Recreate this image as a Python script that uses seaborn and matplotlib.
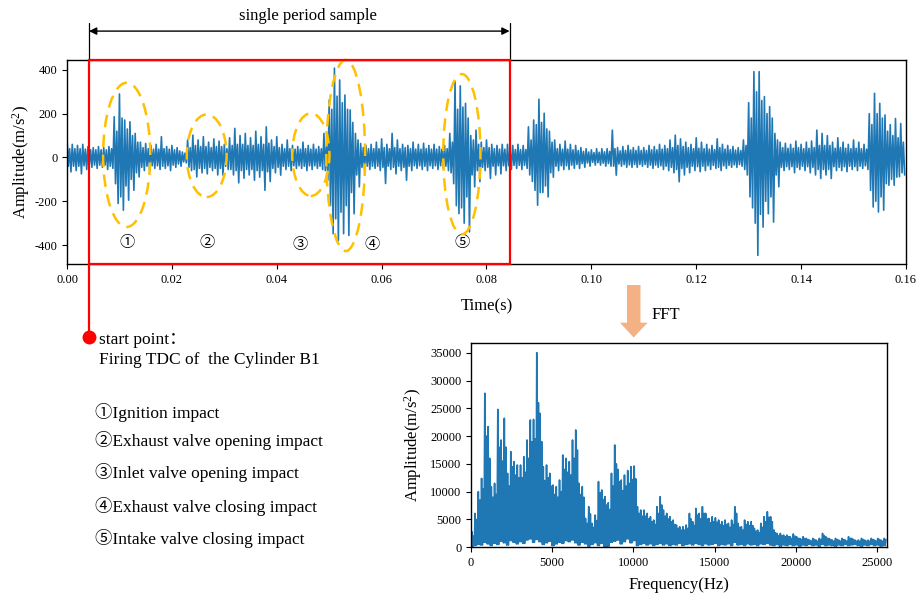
import numpy as np
import matplotlib
matplotlib.use("Agg")
import matplotlib.pyplot as plt
import seaborn as sns
from matplotlib.patches import Ellipse, Rectangle, Polygon

# ---------------- data ----------------
# vibration signal, per-1 ms bin (0 .. 0.16 s): upper / lower extremes and
# half-width of the dense noise core (m/s^2)
sig_up = [90, 60, 55, 60, 50, 45, 50, 45, 50, 186,
          290, 171, 163, 110, 70, 64, 55, 60, 95, 50,
          55, 45, 25, 80, 102, 80, 95, 70, 85, 75,
          60, 90, 133, 100, 110, 90, 120, 95, 140, 80,
          95, 60, 80, 55, 50, 70, 55, 60, 50, 110,
          262, 408, 354, 285, 217, 110, 64, 55, 60, 70,
          85, 60, 110, 80, 60, 55, 70, 60, 65, 55,
          60, 50, 55, 110, 346, 327, 247, 100, 125, 70,
          80, 60, 55, 60, 60, 55, 60, 55, 140, 171,
          266, 202, 120, 80, 60, 75, 60, 55, 45, 40,
          35, 40, 40, 40, 125, 45, 50, 55, 45, 50,
          45, 55, 50, 60, 55, 80, 102, 85, 70, 60,
          90, 70, 60, 55, 85, 60, 55, 50, 45, 80,
          250, 392, 392, 278, 232, 110, 70, 65, 60, 75,
          60, 70, 75, 125, 110, 100, 70, 90, 70, 60,
          80, 70, 60, 200, 293, 247, 194, 150, 178, 155]
sig_lo = [-66, -60, -75, -55, -45, -50, -45, -55, -50, -210,
          -241, -195, -150, -89, -60, -58, -50, -55, -50, -60,
          -45, -40, -25, -60, -89, -70, -75, -60, -80, -81,
          -55, -80, -116, -95, -80, -104, -90, -150, -110, -70,
          -81, -55, -60, -50, -50, -60, -55, -50, -55, -104,
          -348, -379, -348, -356, -257, -134, -58, -55, -50, -60,
          -119, -55, -75, -60, -104, -60, -50, -55, -60, -50,
          -55, -50, -60, -120, -256, -300, -340, -134, -110, -60,
          -96, -80, -75, -60, -55, -50, -55, -50, -110, -218,
          -160, -180, -90, -60, -55, -55, -50, -50, -45, -40,
          -35, -35, -40, -40, -81, -40, -45, -45, -45, -40,
          -45, -50, -45, -55, -60, -70, -111, -80, -70, -60,
          -65, -60, -55, -50, -60, -50, -45, -45, -40, -80,
          -230, -447, -318, -257, -295, -134, -60, -55, -70, -55,
          -60, -70, -80, -96, -80, -96, -60, -60, -65, -55,
          -60, -50, -55, -226, -249, -241, -127, -127, -88, -80]
sig_core = [40, 40, 40, 38, 35, 35, 35, 35, 40, 120,
            180, 130, 100, 70, 45, 40, 38, 38, 40, 38,
            35, 30, 20, 45, 55, 50, 50, 45, 50, 50,
            40, 55, 60, 60, 55, 55, 60, 60, 65, 50,
            45, 40, 40, 38, 38, 40, 38, 38, 40, 60,
            220, 280, 250, 220, 160, 80, 45, 40, 40, 40,
            45, 40, 45, 40, 45, 40, 38, 38, 40, 38,
            38, 38, 40, 70, 220, 230, 180, 80, 60, 45,
            45, 40, 38, 38, 38, 36, 36, 36, 80, 150,
            160, 130, 70, 40, 38, 38, 35, 32, 28, 25,
            22, 24, 26, 28, 40, 30, 32, 34, 32, 32,
            32, 35, 35, 38, 40, 45, 55, 50, 45, 40,
            42, 40, 38, 36, 45, 38, 36, 34, 32, 55,
            180, 300, 260, 200, 180, 80, 45, 42, 42, 45,
            40, 42, 45, 55, 55, 55, 42, 45, 42, 40,
            42, 40, 38, 150, 200, 180, 120, 100, 90, 70]

# spectrum, per-200 Hz bin (0 .. 25600 Hz): peak, floor and dense-fill level
fft_up = [2800, 6100, 10000, 12400, 27700, 21700, 10900, 11500, 24800, 19300,
          23200, 13300, 17200, 15400, 14800, 14800, 16300, 19300, 22900, 23000,
          35000, 24100, 14500, 14800, 13300, 11200, 10900, 12100, 16600, 16000,
          15400, 19300, 21100, 11500, 10900, 5200, 7300, 4300, 5800, 11800,
          10300, 9100, 8000, 13300, 18400, 14000, 12100, 13000, 13800, 14500,
          14600, 7300, 6700, 6700, 6100, 5500, 4900, 7300, 9100, 6700,
          6100, 5500, 4900, 4000, 3700, 3700, 4000, 6100, 4600, 7000,
          6100, 7300, 6100, 5200, 5500, 5300, 4900, 4600, 4900, 4300,
          4900, 7300, 4300, 3700, 4900, 4600, 4600, 3400, 3100, 4300,
          5500, 6400, 5500, 3100, 2500, 2500, 2200, 2200, 1900, 2400,
          1900, 1600, 1900, 1600, 1300, 1600, 1300, 1600, 2500, 1900,
          1600, 1300, 1600, 1300, 1600, 1300, 1900, 1600, 1300, 1300,
          1600, 1300, 1300, 1600, 1300, 1600, 1300, 1600]
fft_lo = [100, 300, 500, 400, 900, 600, 300, 700, 500, 1100,
          800, 400, 1200, 900, 600, 1000, 700, 1300, 1500, 900,
          1400, 1000, 500, 800, 1100, 300, 600, 900, 700, 1200,
          1000, 1300, 800, 400, 900, 600, 200, 500, 800, 300,
          700, 100, 200, 900, 1100, 1300, 600, 1000, 1500, 800,
          1200, 300, 500, 700, 400, 600, 300, 500, 700, 400,
          600, 300, 500, 400, 700, 300, 500, 600, 400, 700,
          500, 300, 600, 400, 500, 700, 300, 500, 400, 600,
          300, 900, 400, 500, 300, 600, 400, 500, 300, 600,
          500, 700, 400, 300, 500, 200, 400, 300, 500, 300,
          400, 200, 400, 300, 500, 300, 400, 200, 500, 300,
          400, 300, 200, 400, 300, 500, 300, 400, 500, 300,
          200, 400, 300, 500, 300, 400, 200, 300]
fft_core = [2000, 5000, 8500, 10500, 20000, 16000, 9000, 9500, 18000, 15500,
            18000, 11000, 14500, 13000, 12500, 12500, 13500, 16000, 19000, 19500,
            26000, 19000, 12000, 12500, 11000, 9500, 9000, 10000, 14000, 13500,
            13000, 16000, 17500, 9500, 9000, 4300, 6000, 3600, 4800, 9800,
            8600, 7600, 6800, 11000, 15000, 11800, 10200, 11000, 11500, 12200,
            12300, 6100, 5600, 5600, 5100, 4600, 4100, 6100, 7600, 5600,
            5100, 4600, 4100, 3400, 3100, 3100, 3400, 5100, 3900, 5800,
            5100, 6100, 5100, 4400, 4600, 4500, 4100, 3900, 4100, 3600,
            4100, 6100, 3600, 3100, 4100, 3900, 3900, 2900, 2600, 3600,
            4600, 5400, 4600, 2600, 2100, 2100, 1900, 1900, 1600, 2000,
            1600, 1400, 1600, 1400, 1100, 1400, 1100, 1400, 2100, 1600,
            1400, 1100, 1400, 1100, 1400, 1100, 1600, 1400, 1100, 1100,
            1400, 1100, 1100, 1400, 1100, 1400, 1100, 1400]

time_ticks = [0.00, 0.02, 0.04, 0.06, 0.08, 0.10, 0.12, 0.14, 0.16]
amp_ticks = [-400, -200, 0, 200, 400]
freq_ticks = [0, 5000, 10000, 15000, 20000, 25000]
spec_ticks = [0, 5000, 10000, 15000, 20000, 25000, 30000, 35000]

event_marks = ["①", "②", "③", "④", "⑤"]
# ellipse centre (s, m/s^2), width (s), height (m/s^2)
event_ellipses = [(0.01138, 12, 0.0090, 659),
                  (0.02664, 8, 0.0076, 377),
                  (0.04650, 13, 0.0071, 377),
                  (0.05315, 9, 0.0074, 873),
                  (0.07530, 15, 0.0071, 732)]
event_label_pos = [(0.01138, -392), (0.02664, -392), (0.04443, -401),
                   (0.05810, -401), (0.07527, -392)]
legend_items = ["①Ignition impact",
                "②Exhaust valve opening impact",
                "③Inlet valve opening impact",
                "④Exhaust valve closing impact",
                "⑤Intake valve closing impact"]

period_start, period_end = 0.0042, 0.0844

# ---------------- style ----------------
sns.set_style("ticks", {"axes.edgecolor": "black", "xtick.color": "black",
                        "ytick.color": "black", "text.color": "black",
                        "axes.labelcolor": "black"})
plt.rcParams["font.family"] = ["Liberation Serif", "Noto Sans CJK SC"]
plt.rcParams["mathtext.fontset"] = "custom"
plt.rcParams["mathtext.rm"] = "Liberation Serif"
plt.rcParams["mathtext.it"] = "Liberation Serif:italic"
plt.rcParams["axes.unicode_minus"] = False
plt.rcParams["xtick.major.size"] = 3.5
plt.rcParams["ytick.major.size"] = 3.5
plt.rcParams["xtick.major.width"] = 0.8
plt.rcParams["ytick.major.width"] = 0.8
plt.rcParams["axes.linewidth"] = 1.0

W, H = 918, 595
fig = plt.figure(figsize=(W / 100, H / 100), dpi=100)


def px(x, y):
    return x / W, 1 - y / H


blue = "#1f77b4"

# ---------------- time signal ----------------
ax1 = fig.add_axes([0.0730, 0.5558, 0.9139, 0.3429])
t_bins = np.arange(len(sig_up)) * 0.001
core = np.asarray(sig_core)
t = np.column_stack([t_bins, t_bins + 0.00025, t_bins + 0.0005,
                     t_bins + 0.00075]).ravel()
v = np.column_stack([sig_up, -core, core, sig_lo]).ravel()
sns.lineplot(x=t, y=v, ax=ax1, color=blue, lw=1.2, estimator=None, sort=False)
ax1.set_xlim(0, 0.16)
ax1.set_ylim(-488, 444)
ax1.set_xticks(time_ticks)
ax1.set_xticklabels([f"{x:.2f}" for x in time_ticks], fontsize=9)
ax1.set_yticks(amp_ticks)
ax1.set_yticklabels([str(a) for a in amp_ticks], fontsize=9)
ax1.set_xlabel("Time(s)", fontsize=12, labelpad=9)
ax1.set_ylabel("Amplitude(m/s$^2$)", fontsize=12, labelpad=2)

trans = ax1.get_xaxis_transform()
ax1.add_patch(Rectangle((period_start, 0), period_end - period_start, 1,
                        transform=trans, fill=False, ec="red", lw=1.6,
                        clip_on=False, zorder=6))
ax1.plot([period_start, period_start], [0, -0.355], transform=trans,
         color="red", lw=1.6, clip_on=False, zorder=6)
ax1.plot([period_start], [-0.355], "o", color="red", ms=9, transform=trans,
         clip_on=False, zorder=7)
for xs in (period_start, period_end):
    ax1.plot([xs, xs], [1, 1.183], transform=trans, color="black", lw=0.9,
             clip_on=False)
ax1.annotate("", xy=(period_start, 1.143), xytext=(period_end, 1.143),
             xycoords=trans, textcoords=trans,
             arrowprops=dict(arrowstyle="<|-|>", color="black", lw=1,
                             shrinkA=0, shrinkB=0, mutation_scale=11))
ax1.text(0.046, 1.217, "single period sample", transform=trans,
         ha="center", va="center", fontsize=12)

for (tc, vc, w, h) in event_ellipses:
    ax1.add_patch(Ellipse((tc, vc), w, h, fill=False, ec="#FFC000", lw=1.8,
                          ls=(0, (5, 3)), zorder=5, clip_on=False))
for mark, (tx, ty) in zip(event_marks, event_label_pos):
    ax1.text(tx, ty, mark, ha="center", va="center", fontsize=11)

# ---------------- spectrum ----------------
ax2 = fig.add_axes([0.5131, 0.0802, 0.4528, 0.3438])
f_bins = np.arange(len(fft_up)) * 200.0
f = np.column_stack([f_bins, f_bins + 50, f_bins + 100,
                     f_bins + 150]).ravel()
a = np.column_stack([fft_lo, fft_up, fft_lo, fft_core]).ravel()
sns.lineplot(x=f, y=a, ax=ax2, color=blue, lw=1.2, estimator=None, sort=False)
ax2.set_xlim(0, 25600)
ax2.set_ylim(0, 36800)
ax2.set_xticks(freq_ticks)
ax2.set_xticklabels([str(x) for x in freq_ticks], fontsize=9)
ax2.set_yticks(spec_ticks)
ax2.set_yticklabels([str(x) for x in spec_ticks], fontsize=9)
ax2.set_xlabel("Frequency(Hz)", fontsize=12, labelpad=6)
ax2.set_ylabel("Amplitude(m/s$^2$)", fontsize=12, labelpad=4)

# ---------------- FFT arrow ----------------
arrow_px = [(627, 285), (640.5, 285), (640.5, 322.7), (647.5, 322.7),
            (633.7, 337.5), (620, 322.7), (627, 322.7)]
fig.add_artist(Polygon([px(x, y) for x, y in arrow_px], closed=True,
                       transform=fig.transFigure, fc="#F4B183", ec="none"))
fig.text(*px(652, 315), "FFT", ha="left", va="center", fontsize=12)

# ---------------- notes ----------------
fig.text(*px(99, 340), "start point：", ha="left", va="center", fontsize=12.5)
fig.text(*px(99, 360), "Firing TDC of  the Cylinder B1", ha="left",
         va="center", fontsize=12.5)
for item, y in zip(legend_items, [413, 441, 473, 507, 538]):
    fig.text(*px(95, y), item, ha="left", va="center", fontsize=12.5)

fig.savefig("out.png", dpi=100)
